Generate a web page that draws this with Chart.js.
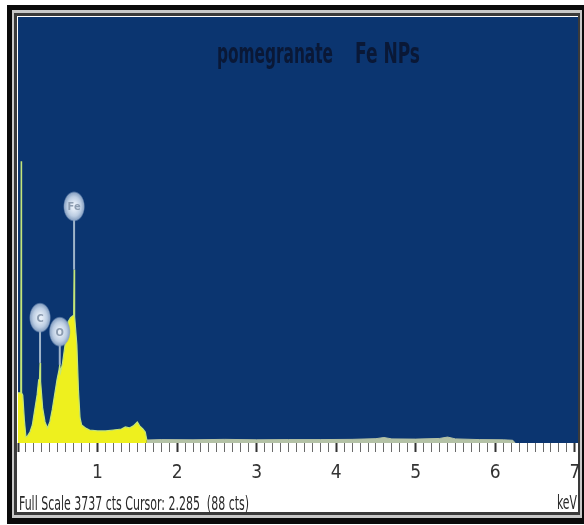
<!DOCTYPE html>
<html>
<head>
<meta charset="utf-8">
<script src="https://cdn.jsdelivr.net/npm/chart.js@4/dist/chart.umd.min.js"></script>
<style>
html, body { margin: 0; padding: 0; background: #fff; }
#wrap { width: 584px; height: 525px; }
</style>
</head>
<body>
<div id="wrap"><canvas id="eds" width="584" height="525"></canvas></div>
<script>
// EDS spectrum - pomegranate Fe NPs
var titleParts = ['pomegranate', 'Fe NPs'];
var footerText = 'Full Scale 3737 cts Cursor: 2.285  (88 cts)';
var unitText = 'keV';
var fullScale = 3737;

// main (yellow) part of the spectrum, keV / counts
var peakKeV = [0, 0.035, 0.04, 0.045, 0.06, 0.08, 0.10, 0.12, 0.15, 0.18, 0.21, 0.24, 0.26, 0.27, 0.277, 0.284,
  0.31, 0.34, 0.37, 0.40, 0.43, 0.46, 0.49, 0.515, 0.525, 0.535, 0.56, 0.60, 0.63, 0.66, 0.69, 0.70, 0.705,
  0.712, 0.74, 0.76, 0.78, 0.80, 0.85, 0.90, 1.0, 1.1, 1.2, 1.3, 1.35, 1.4, 1.45, 1.5, 1.53, 1.57, 1.60, 1.62];
var peakCounts = [440, 440, 2471, 440, 420, 202, 53, 62, 97, 158, 290, 422, 554, 560, 703, 540,
  308, 185, 132, 185, 290, 422, 554, 640, 686, 620, 700, 906, 1064, 1099, 1117, 1120, 1521,
  1110, 862, 466, 220, 158, 132, 114, 106, 106, 114, 123, 141, 132, 150, 185, 150, 123, 97, 26];

// low background after 1.6 keV
var tailKeV = [1.62, 1.8, 2.2, 2.6, 3.0, 3.4, 3.8, 4.2, 4.5, 4.6, 4.7, 5.0, 5.3, 5.4, 5.5, 5.8, 6.1, 6.22, 6.25];
var tailCounts = [26, 30, 28, 32, 28, 30, 30, 32, 38, 48, 36, 34, 40, 52, 36, 30, 28, 24, 0];

// element markers
var elementNames = ['C', 'O', 'Fe'];
var elementKeV = [0.277, 0.525, 0.705];
var elementPeak = [703, 686, 1521];
var labelCounts = [1099, 976, 2075];

var narrowFont = '"Liberation Sans Narrow", "DejaVu Sans Condensed", "Liberation Sans", sans-serif';

function toPoints(xs, ys) {
  var pts = [];
  for (var i = 0; i < xs.length; i++) pts.push({x: xs[i], y: ys[i]});
  return pts;
}

function isWhole(v) {
  return Math.abs(v - Math.round(v)) < 1e-6;
}

// draw text squeezed into a given width (the original lettering is condensed)
function fitText(ctx, text, x, baseline, width) {
  var w = ctx.measureText(text).width;
  ctx.save();
  ctx.translate(x, baseline);
  ctx.scale(width / w, 1);
  ctx.fillText(text, 0, 0);
  ctx.restore();
}

var framePlugin = {
  id: 'frame',
  beforeDraw: function (chart) {
    var ctx = chart.ctx, a = chart.chartArea;
    ctx.save();
    ctx.fillStyle = '#ffffff'; ctx.fillRect(0, 0, chart.width, chart.height);
    ctx.fillStyle = '#0a0a0a'; ctx.fillRect(7, 5, 577, 519);
    ctx.fillStyle = '#c8c8c8'; ctx.fillRect(12, 10, 570, 508);
    ctx.fillStyle = '#3a3a3a'; ctx.fillRect(14, 13, 566, 502);
    ctx.fillStyle = '#ffffff'; ctx.fillRect(17, 16, 561, 496);
    ctx.fillStyle = '#0b3570'; ctx.fillRect(a.left, a.top, a.right - a.left, a.bottom - a.top);
    ctx.restore();
  },
  afterDatasetsDraw: function (chart) {
    var ctx = chart.ctx, xs = chart.scales.x, ys = chart.scales.y;
    ctx.save();
    for (var i = 0; i < elementNames.length; i++) {
      var px = xs.getPixelForValue(elementKeV[i]);
      var py = ys.getPixelForValue(labelCounts[i]);
      var top = ys.getPixelForValue(elementPeak[i]);
      // stem
      ctx.strokeStyle = '#9fb4c9';
      ctx.lineWidth = 2;
      ctx.beginPath();
      ctx.moveTo(px, py + 12);
      ctx.lineTo(px, top);
      ctx.stroke();
      // bubble
      ctx.save();
      ctx.translate(px, py);
      ctx.scale(1, 1.4);
      var g = ctx.createRadialGradient(0, 0, 2, 0, 0, 11);
      g.addColorStop(0, '#e6eef8');
      g.addColorStop(0.55, '#bccde2');
      g.addColorStop(0.85, '#8ea6c6');
      g.addColorStop(1, 'rgba(120,150,190,0)');
      ctx.fillStyle = g;
      ctx.beginPath();
      ctx.arc(0, 0, 11, 0, Math.PI * 2);
      ctx.fill();
      ctx.restore();
      ctx.fillStyle = '#8c9cb0';
      ctx.font = 'bold 11px ' + narrowFont;
      ctx.textAlign = 'center';
      ctx.textBaseline = 'middle';
      ctx.fillText(elementNames[i], px, py + 1);
    }
    ctx.restore();
  },
  afterDraw: function (chart) {
    var ctx = chart.ctx;
    ctx.save();
    ctx.textAlign = 'left';
    ctx.textBaseline = 'alphabetic';
    ctx.fillStyle = '#0a1836';
    ctx.font = 'bold 28px ' + narrowFont;
    fitText(ctx, titleParts[0], 217, 63, 116);
    fitText(ctx, titleParts[1], 355, 63, 65);
    ctx.fillStyle = '#2a2a2a';
    ctx.font = '20px ' + narrowFont;
    fitText(ctx, footerText, 19, 510, 230);
    fitText(ctx, unitText, 557, 509, 20);
    ctx.restore();
  }
};

new Chart(document.getElementById('eds'), {
  type: 'line',
  data: {
    datasets: [
      {
        data: toPoints(peakKeV, peakCounts),
        borderColor: '#c3e57a',
        borderWidth: 1.2,
        backgroundColor: '#eef01e',
        fill: 'origin',
        pointRadius: 0,
        tension: 0
      },
      {
        data: toPoints(tailKeV, tailCounts),
        borderColor: '#b4c2a6',
        borderWidth: 1,
        backgroundColor: '#b4c2a6',
        fill: 'origin',
        pointRadius: 0,
        tension: 0
      }
    ]
  },
  options: {
    responsive: false,
    animation: false,
    layout: { padding: { left: 18, right: 6, top: 17, bottom: 0 } },
    plugins: { legend: { display: false }, tooltip: { enabled: false } },
    scales: {
      x: {
        type: 'linear',
        min: 0,
        max: 7.04,
        position: 'bottom',
        border: { display: false },
        grid: {
          drawOnChartArea: false,
          drawTicks: true,
          tickLength: 9,
          tickColor: function (c) { return isWhole(c.tick.value) ? '#333333' : '#6a6a6a'; },
          tickWidth: function (c) { return isWhole(c.tick.value) ? 2 : 1; }
        },
        ticks: {
          stepSize: 0.1,
          includeBounds: false,
          autoSkip: false,
          maxRotation: 0,
          padding: 10,
          color: '#333333',
          font: { family: narrowFont, size: 19 },
          callback: function (v) { return (isWhole(v) && v > 0.5) ? String(Math.round(v)) : ''; }
        },
        afterFit: function (s) {
          s.height = 82;
          s.paddingLeft = 0;
          s.paddingRight = 0;
        }
      },
      y: {
        display: false,
        min: 0,
        max: fullScale
      }
    }
  },
  plugins: [framePlugin]
});
</script>
</body>
</html>
